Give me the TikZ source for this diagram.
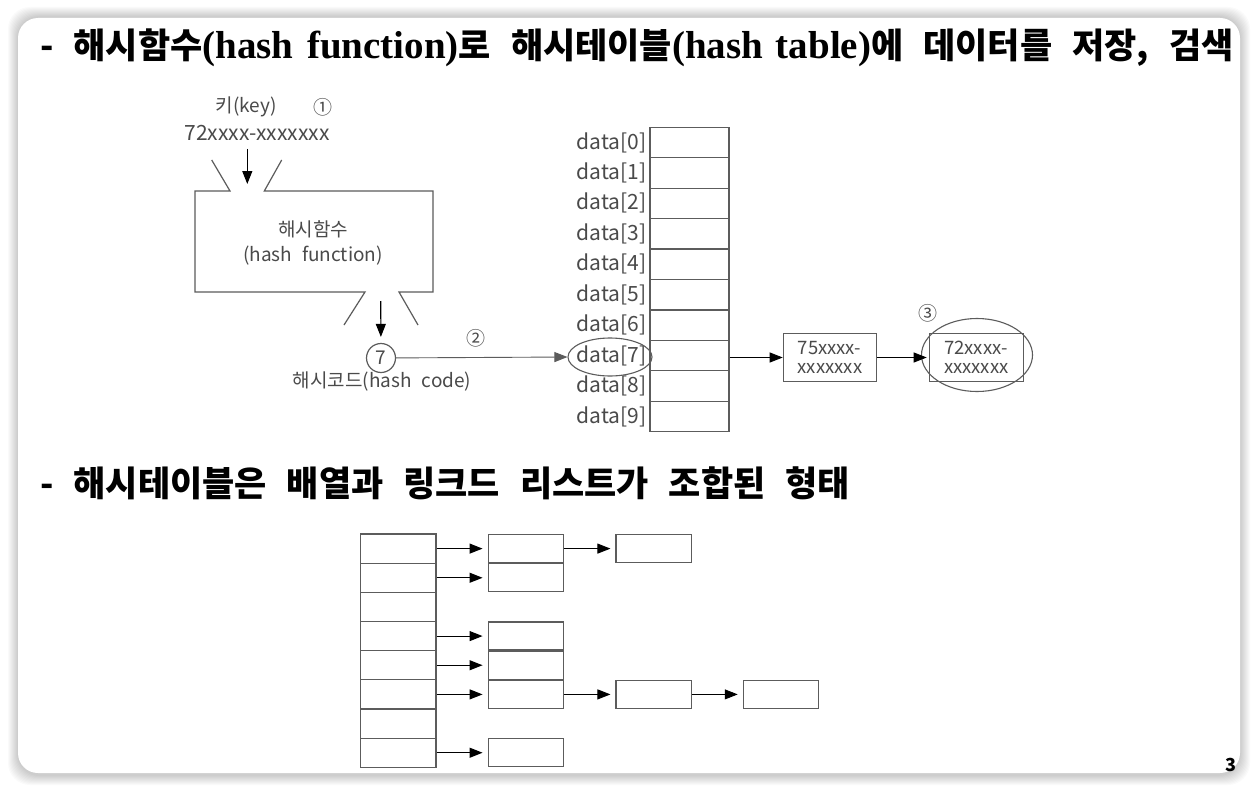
\documentclass[tikz,border=0pt]{standalone}
\usepackage{fontspec}
\usetikzlibrary{arrows.meta, positioning, shapes.geometric}
\newfontfamily\krfont{Noto Sans CJK KR}
\newfontfamily\krtitle[WordSpace=2.5]{Noto Sans CJK KR}
\newfontfamily\lserif{Liberation Serif}
\definecolor{linegray}{HTML}{5C5C5C}
\definecolor{textgray}{HTML}{4A4A4A}
\newcommand{\kr}[1]{{\krtitle\bfseries #1}}
\newcommand{\lat}[1]{{\lserif\bfseries\fontsize{39}{40}\selectfont #1}}

\tikzset{
  cell/.style={draw=linegray, line width=1.2pt, minimum width=79pt, minimum height=30.44pt, inner sep=0pt},
  listbox/.style={draw=linegray, line width=1.2pt, minimum width=75.4pt, minimum height=28pt, inner sep=0pt},
  lbl/.style={text=textgray, font=\krfont\fontsize{19}{25}\selectfont, inner sep=0pt},
  datalbl/.style={text=textgray, font=\krfont\fontsize{21}{24}\selectfont, inner sep=0pt},
  valbox/.style={lbl, draw=linegray, line width=1.2pt, minimum height=48.4pt, align=left,
                 font=\krfont\fontsize{18.5}{18.5}\selectfont, inner sep=3pt},
  ptr/.style={-{Triangle[length=13pt,width=10pt]}, line width=1.1pt},
  heading/.style={font=\fontsize{35}{40}\selectfont, anchor=west, inner sep=0pt},
}

\begin{document}
\begin{tikzpicture}[x=1pt, y=-1pt]
    \useasboundingbox (0,0) rectangle (1258,792);
    \fill[white] (0,0) rectangle (1258,792);
    % slide frame with soft shadow
    \foreach \i in {1,...,10}
        \fill[black, opacity=0.02, rounded corners=22pt] (18-\i,17-\i) rectangle (1240+\i,775+\i);
    \fill[white, rounded corners=20pt] (18,18) rectangle (1240,773);

    % headings
    \node[heading] (title1) at (40,48) {\kr{- 해시함수}\lat{(hash\hspace{4pt} function)}\kr{로 해시테이블}\lat{(hash\hspace{3pt} table)}\kr{에 데이터를 저장, 검색}};
    \node[heading] (title2) at (40,483) {\kr{- 해시테이블은 배열과 링크드 리스트가 조합된 형태}};
    \node[font=\krfont\bfseries\fontsize{18}{20}\selectfont, inner sep=0pt] (page) at (1231,765) {3};

    % key and hash function
    \node[lbl] (key) at (246,107) {키(key)};
    \node[lbl] (n1) at (323,107) {①};
    \node[lbl, font=\krfont\fontsize{21}{25}\selectfont] (keyval) at (257,133) {72xxxx-xxxxxxx};
    \draw[linegray, line width=1.2pt] (211.7,160) -- (230,191) -- (195,191) -- (195,292) -- (365,292) -- (344,325);
    \draw[linegray, line width=1.2pt] (281.7,160) -- (264.3,191) -- (433,191) -- (433,292) -- (399,292) -- (418,325);
    \node[lbl, align=center] (func) at (313,243) {해시함수\\(hash\hspace{10pt}function)};
    \coordinate (fin) at (247.3,184);
    \coordinate (fout) at (380.7,301);
    \draw[ptr] (keyval.south -| fin) ++(0,8) -- (fin);

    \node[lbl, draw=linegray, line width=1.2pt, circle, minimum size=29pt] (c7) at (381,358) {7};
    \node[lbl] (code) at (382,382) {해시코드(hash\hspace{10pt}code)};
    \draw[ptr, shorten >=6pt] (fout) -- (c7);

    % hash table
    \foreach \i in {0,...,9}{
        \node[cell] (d\i) at (689.5,142.5+30.44*\i) {};
        \node[datalbl, anchor=east] (l\i) at ([xshift=-3pt]d\i.west) {data[\i]};
    }
    \node[ellipse, draw=linegray, line width=1.1pt, minimum width=84pt, minimum height=38pt] (e7) at (610,357) {};
    \node[lbl] (n2) at (476,338) {②};
    \draw[ptr, line width=0.9pt, draw=linegray] (c7) -- (e7.west);

    % chain for data[7]
    \node[valbox, minimum width=93.4pt] (v1) at (830,357.5) {75xxxx-\\xxxxxxx};
    \node[valbox, minimum width=94pt] (v2) at (976.3,357.5) {72xxxx-\\xxxxxxx};
    \node[ellipse, draw=linegray, line width=1.1pt, minimum width=111pt, minimum height=73pt] (e3) at (977,355) {};
    \node[lbl] (n3) at (928,313) {③};
    \draw[ptr, line width=0.9pt] (d7.east |- v1.west) -- (v1.west);
    \draw[ptr, line width=0.9pt, shorten >=2pt] (v1.east) -- (v2.west);

    % array + linked lists
    \foreach \i in {0,...,7}
        \node[cell, minimum width=75.3pt, minimum height=29.16pt] (a\i) at (398.3,548.6+29.16*\i) {};
    \foreach \i in {0,1,3,4,5,7}{
        \node[listbox, right=51pt of a\i] (b\i) {};
        \draw[ptr, shorten >=5pt] (a\i.east) -- (b\i.west);
    }
    \node[listbox, right=51.3pt of b0] (c0) {};
    \node[listbox, right=51.3pt of b5] (c5) {};
    \node[listbox, right=50.7pt of c5] (f5) {};
    \draw[ptr, line width=0.9pt, shorten >=5pt] (b0.east) -- (c0.west);
    \draw[ptr, line width=0.9pt, shorten >=5pt] (b5.east) -- (c5.west);
    \draw[ptr, line width=0.9pt, shorten >=5pt] (c5.east) -- (f5.west);
\end{tikzpicture}
\end{document}
